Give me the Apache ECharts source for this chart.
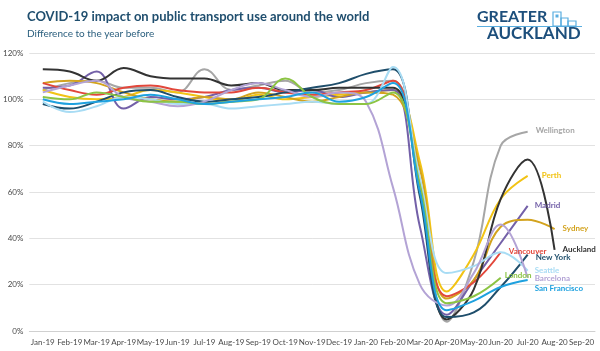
<!DOCTYPE html>
<html>
<head>
<meta charset="utf-8">
<script src="https://cdn.jsdelivr.net/npm/echarts@6/dist/echarts.min.js"></script>
<style>
  html, body { margin: 0; padding: 0; background: #fff; }
  #chart { width: 600px; height: 351px; }
</style>
</head>
<body>
<div id="chart"></div>
<script>
// months on the x axis
const months = ['Jan-19', 'Feb-19', 'Mar-19', 'Apr-19', 'May-19', 'Jun-19', 'Jul-19', 'Aug-19', 'Sep-19',
  'Oct-19', 'Nov-19', 'Dec-19', 'Jan-20', 'Feb-20', 'Mar-20', 'Apr-20', 'May-20', 'Jun-20', 'Jul-20',
  'Aug-20', 'Sep-20'];

// % of the same month the year before
const wellington = [104, 107, 108, 105, 105, 103, 113, 104, 106, 108, 103, 104, 107, 108, 65, 4, 30, 80, 86, null, null];
const auckland = [113, 112, 108, 113.5, 110, 109, 109, 106, 107, 104, 104, 105, 105, 105, 62, 5, 18, 57, 74, 35, null];
const perth = [104, 101, 100, 101, 104, 103, 101, 99, 102, 100, 101, 102, 103, 104, 73, 17, 33, 57, 67, null, null];
const madrid = [105, 106, 112, 96, 101, 100, 101, 104, 105, 103, 104, 101, 103, 104, 45, 7, 22, 38, 54, null, null];
const sydney = [107, 108, 107, 103, 100, 99, 101, 100, 103, 101, 99, 101, 103, 102, 70, 14, 22, 45, 48, 44, null];
const vancouver = [107, 104, 102, 105, 106, 104, 103, 103, 105, 103, 102, 103, 104, 108, 62, 15, 21, 34, null, null, null];
const newYork = [98, 96, 99, 103, 104, 101, 99, 100, 101, 103, 105, 107, 111, 113, 58, 6, 8, 19, 33, null, null];
const seattle = [99, 94.5, 97, 101, 100, 98, 98, 96, 97, 98, 99, 98, 98, 114, 66, 25, 28, 34, 26, null, null];
const barcelona = [103, 106, 108, 101, 99, 97, 99, 104, 107, 104, 101, 103, 99, 62, 20, 11, 25, 46, 23, null, null];
const london = [101, 100, 103, 101, 99, 99, 98, 99, 100, 109, 101, 98, 98, 103, 63, 12, 15, 23, null, null, null];
const sanFrancisco = [100, 98, 99, 100, 102, 100, 98, 99, 100, 101, 103, 99, 101, 107, 60, 9, 13, 19, 22, null, null];

const yTicks = [0, 20, 40, 60, 80, 100, 120];

const cities = [
  { name: 'Wellington', data: wellington, color: '#a6a6a6', off: [8, -1] },
  { name: 'Perth', data: perth, color: '#f2c314', off: [14, 0] },
  { name: 'Madrid', data: madrid, color: '#7360a8', off: [7, 0] },
  { name: 'Sydney', data: sydney, color: '#d3a31e', off: [8, -1] },
  { name: 'Vancouver', data: vancouver, color: '#e2473b', off: [8, -1] },
  { name: 'Auckland', data: auckland, color: '#333333', off: [8, 0] },
  { name: 'New York', data: newYork, color: '#1f4e6b', off: [8, 3] },
  { name: 'Seattle', data: seattle, color: '#a8dcf4', off: [7, 0] },
  { name: 'Barcelona', data: barcelona, color: '#b3a3d5', off: [7, 1] },
  { name: 'London', data: london, color: '#8cc444', off: [4, -2] },
  { name: 'San Francisco', data: sanFrancisco, color: '#1ea1df', off: [7, 8] }
];

const chart = echarts.init(document.getElementById('chart'));

const logoBlue = '#1d4f7c';
const iconBlue = '#5aaee0';

chart.setOption({
  animation: false,
  textStyle: { fontFamily: 'Lato' },
  grid: { left: 28, right: 5, top: 53, bottom: 20 },
  xAxis: {
    type: 'category',
    data: months,
    boundaryGap: true,
    axisLine: { lineStyle: { color: '#d0d0d0' } },
    axisTick: { length: 4, lineStyle: { color: '#d0d0d0' } },
    axisLabel: { color: '#4a4a4a', fontSize: 8, margin: 7, interval: 0 }
  },
  yAxis: {
    type: 'value',
    min: yTicks[0],
    max: yTicks[yTicks.length - 1],
    interval: 20,
    axisLine: { show: false },
    axisTick: { show: false },
    axisLabel: { color: '#4a4a4a', fontSize: 8, margin: 6, formatter: '{value}%' },
    splitLine: { lineStyle: { color: '#e2e2e2' } }
  },
  series: cities.map(c => ({
    name: c.name,
    type: 'line',
    data: c.data,
    smooth: 0.4,
    showSymbol: false,
    connectNulls: false,
    lineStyle: { width: 2, color: c.color },
    itemStyle: { color: c.color },
    endLabel: {
      show: true,
      formatter: c.name,
      color: c.color,
      fontSize: 8,
      fontWeight: 'bold',
      distance: 0,
      offset: c.off
    }
  })),
  graphic: [
    {
      type: 'text', left: 27, top: 10,
      style: { text: 'COVID-19 impact on public transport use around the world', font: 'bold 13px Lato', fill: '#1f4e6e' }
    },
    {
      type: 'text', left: 27, top: 29,
      style: { text: 'Difference to the year before', font: '10px Lato', fill: '#2b5f7e' }
    },
    {
      type: 'text', left: 477, top: 9,
      style: { text: 'GREATER', font: 'bold 16px Lato', fill: logoBlue }
    },
    {
      type: 'text', left: 487, top: 25,
      style: { text: 'AUCKLAND', font: 'bold 17px Lato', fill: logoBlue }
    },
    { type: 'line', shape: { x1: 477, y1: 26.5, x2: 582, y2: 26.5 }, style: { stroke: iconBlue, lineWidth: 1 } },
    { type: 'rect', shape: { x: 553, y: 12, width: 8, height: 14 }, style: { fill: 'none', stroke: iconBlue, lineWidth: 1.2 } },
    { type: 'rect', shape: { x: 555.5, y: 14.5, width: 3, height: 3 }, style: { fill: iconBlue } },
    { type: 'rect', shape: { x: 561, y: 18, width: 7, height: 8 }, style: { fill: 'none', stroke: iconBlue, lineWidth: 1.2 } },
    { type: 'rect', shape: { x: 568, y: 21, width: 8, height: 5 }, style: { fill: 'none', stroke: iconBlue, lineWidth: 1.2 } }
  ]
});
</script>
</body>
</html>
